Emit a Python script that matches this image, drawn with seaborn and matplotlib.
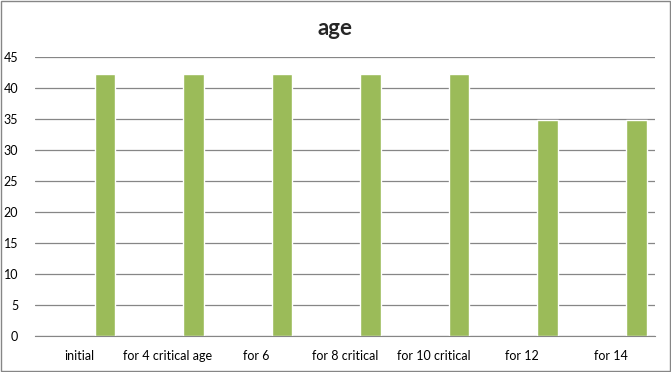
import pandas as pd
import seaborn as sns
import matplotlib.pyplot as plt
from matplotlib.patches import Rectangle

# chart data
categories = ['initial', 'for 4 critical age', 'for 6', 'for 8 critical',
              'for 10 critical', 'for 12', 'for 14']
age_values = [42.2, 42.2, 42.2, 42.3, 42.2, 34.9, 34.9]
# empty first series (Excel left a blank slot before each bar)
blank_values = [float('nan')] * len(categories)
y_ticks = list(range(0, 50, 5))

df = pd.DataFrame({
    'category': categories * 2,
    'value': blank_values + age_values,
    'series': ['blank'] * len(categories) + ['age'] * len(categories),
})

sns.set_style('white')
plt.rcParams['font.family'] = ['Lato', 'DejaVu Sans']

fig = plt.figure(figsize=(6.71, 3.72), dpi=100)
ax = fig.add_axes([0.052, 0.097, 0.924, 0.750])

sns.barplot(data=df, x='category', y='value', hue='series',
            hue_order=['blank', 'age'], palette=['#9BBB59', '#9BBB59'],
            width=1.16, gap=0.6, saturation=1, legend=False, ax=ax)

ax.set_ylim(0, 45)
ax.set_yticks(y_ticks)
ax.set_xlim(-0.5, len(categories) - 0.5)
ax.yaxis.grid(True, color='#868686', linewidth=0.9)
ax.set_axisbelow(True)
for side in ['left', 'right', 'top']:
    ax.spines[side].set_visible(False)
ax.spines['bottom'].set_color('#868686')
ax.tick_params(axis='both', length=0, labelsize=9, colors='#000000')
ax.tick_params(axis='x', pad=10)
ax.tick_params(axis='y', pad=12)
ax.set_xlabel('')
ax.set_ylabel('')

fig.text(0.5, 0.923, 'age', ha='center', va='center', fontsize=16,
         fontweight='bold')

# outer chart border
fig.patches.append(Rectangle((0.0015, 0.003), 0.997, 0.994, transform=fig.transFigure,
                             fill=False, edgecolor='#868686', linewidth=1))

fig.savefig('out.png', dpi=100)
